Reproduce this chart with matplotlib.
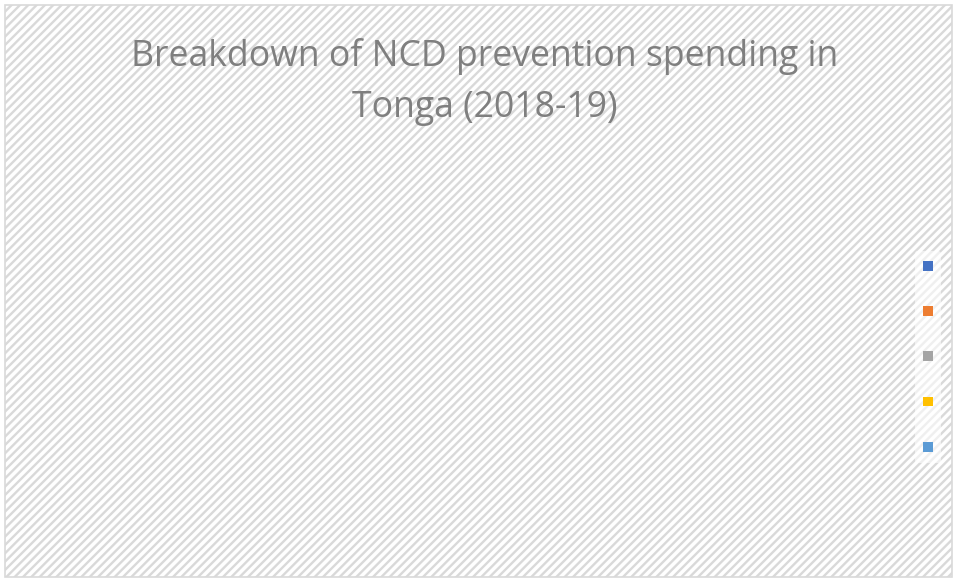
import matplotlib.pyplot as plt
from matplotlib.patches import Rectangle, Patch

# spending categories (names left blank in the source workbook), all empty
categories = ["", "", "", "", ""]
spending = [0, 0, 0, 0, 0]
colors = ["#4472C4", "#ED7D31", "#A5A5A5", "#FFC000", "#5B9BD5"]

title = "Breakdown of NCD prevention spending in\nTonga (2018-19)"

plt.rcParams["hatch.linewidth"] = 1.7
plt.rcParams["hatch.color"] = "#e0e0e0"

W, H = 954, 579
fig = plt.figure(figsize=(W / 100, H / 100), dpi=100)
fig.patch.set_facecolor("white")

# striped chart area with a thin grey frame
bg = Rectangle((5 / W, 2 / H), 947 / W, 572 / H, transform=fig.transFigure,
               facecolor="white", edgecolor="#d9d9d9", hatch="////", lw=1.2,
               zorder=0)
fig.patches.append(bg)

ax = fig.add_axes([0.05, 0.05, 0.85, 0.72])
ax.set_axis_off()
if sum(spending) > 0:
    ax.pie(spending, colors=colors, labels=categories)

fig.text(0.508, 0.858, title, ha="center", va="center", fontsize=25.7,
         family="Open Sans", color="#7f7f7f", linespacing=1.55)

handles = [Patch(facecolor=c, edgecolor="white", lw=0) for c in colors]
leg = fig.legend(handles, categories, loc="center right",
                 bbox_to_anchor=(948 / W, 1 - 357 / H), ncol=1,
                 handlelength=0.7, handleheight=0.7, labelspacing=2.25,
                 handletextpad=0.0, borderpad=0.6, frameon=True,
                 fontsize=10)
leg.get_frame().set_facecolor("white")
leg.get_frame().set_edgecolor("none")
leg.get_frame().set_alpha(0.6)

fig.savefig("out.png", dpi=100)
